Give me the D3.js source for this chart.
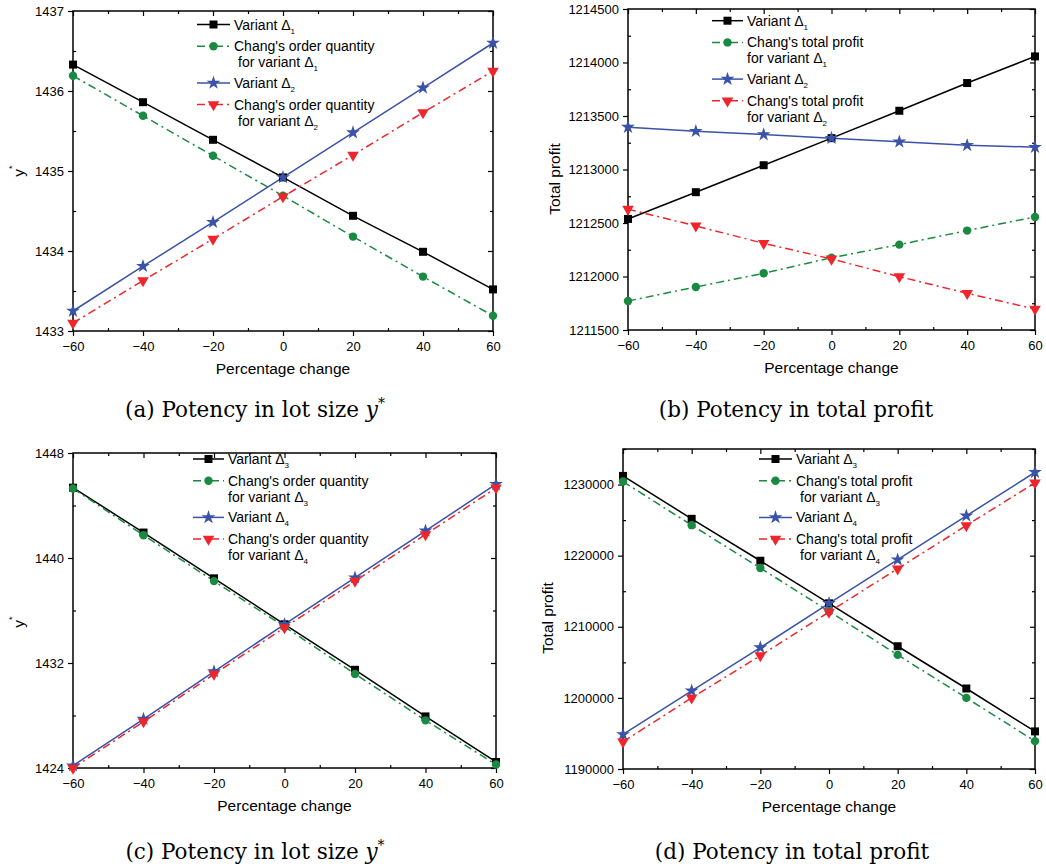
<!DOCTYPE html>
<html>
<head>
<meta charset="utf-8">
<script src="https://cdn.jsdelivr.net/npm/d3@7"></script>
<style>
  body { margin: 0; background: white; }
  svg { display: block; }
</style>
</head>
<body>
<svg id="chart" width="1046" height="868"></svg>
<script>
// percentage change on the x axis, shared by all four panels
const pct = [-60, -40, -20, 0, 20, 40, 60];
const xTicks = [-60, -40, -20, 0, 20, 40, 60];

// (a) lot size y*
const aVariant1 = [1436.33, 1435.86, 1435.39, 1434.92, 1434.44, 1433.99, 1433.52];
const aChang1 = [1436.19, 1435.69, 1435.19, 1434.69, 1434.18, 1433.68, 1433.19];
const aVariant2 = [1433.25, 1433.81, 1434.36, 1434.92, 1435.48, 1436.04, 1436.6];
const aChang2 = [1433.1, 1433.63, 1434.15, 1434.68, 1435.2, 1435.73, 1436.25];
const aYTicks = [1433, 1434, 1435, 1436, 1437];

// (b) total profit
const bVariant1 = [1212538, 1212788, 1213040, 1213293, 1213549, 1213808, 1214057];
const bChang1 = [1211771, 1211902, 1212030, 1212176, 1212298, 1212429, 1212557];
const bVariant2 = [1213396, 1213358, 1213327, 1213293, 1213259, 1213227, 1213209];
const bChang2 = [1212629, 1212473, 1212310, 1212164, 1211999, 1211843, 1211696];
const bYTicks = [1211500, 1212000, 1212500, 1213000, 1213500, 1214000, 1214500];

// (c) lot size y*
const cVariant3 = [1445.36, 1441.94, 1438.45, 1434.95, 1431.48, 1427.93, 1424.46];
const cChang3 = [1445.29, 1441.74, 1438.24, 1434.77, 1431.17, 1427.63, 1424.26];
const cVariant4 = [1424.18, 1427.73, 1431.35, 1434.95, 1438.5, 1442.07, 1445.62];
const cChang4 = [1424.0, 1427.53, 1431.15, 1434.7, 1438.24, 1441.79, 1445.34];
const cYTicks = [1424, 1432, 1440, 1448];

// (d) total profit
const dVariant3 = [1231216, 1225181, 1219287, 1213298, 1207263, 1201322, 1195287];
const dChang3 = [1230421, 1224292, 1218257, 1212175, 1206047, 1200000, 1193918];
const dVariant4 = [1194866, 1200994, 1207076, 1213298, 1219427, 1225602, 1231731];
const dChang4 = [1193836, 1200000, 1205942, 1212082, 1218164, 1224246, 1230234];
const dYTicks = [1190000, 1200000, 1210000, 1220000, 1230000];

const orderLabels1 = ["Variant Δ_1", "Chang's order quantity\nfor variant Δ_1", "Variant Δ_2", "Chang's order quantity\nfor variant Δ_2"];
const profitLabels1 = ["Variant Δ_1", "Chang's total profit\nfor variant Δ_1", "Variant Δ_2", "Chang's total profit\nfor variant Δ_2"];
const orderLabels3 = ["Variant Δ_3", "Chang's order quantity\nfor variant Δ_3", "Variant Δ_4", "Chang's order quantity\nfor variant Δ_4"];
const profitLabels3 = ["Variant Δ_3", "Chang's total profit\nfor variant Δ_3", "Variant Δ_4", "Chang's total profit\nfor variant Δ_4"];

const styles = [
  { color: "#000000", dash: null, symbol: d3.symbolSquare, size: 64, rotate: 0 },
  { color: "#1a8a42", dash: "8,4,2,4", symbol: d3.symbolCircle, size: 56, rotate: 0 },
  { color: "#3a52a8", dash: null, symbol: d3.symbolStar, size: 60, rotate: 0 },
  { color: "#f0242b", dash: "8,4,2,4", symbol: d3.symbolTriangle, size: 58, rotate: 180 },
];

const svg = d3.select("#chart");
svg.append("rect").attr("width", 1046).attr("height", 868).attr("fill", "white");

const font = "Liberation Sans, Arial, sans-serif";

function drawPanel(p) {
  const g = svg.append("g");
  const x = d3.scaleLinear().domain([-60, 60]).range([p.left, p.right]);
  const y = d3.scaleLinear().domain(p.yDomain).range([p.bottom, p.top]);
  const xMinor = d3.range(-50, 60, 20);
  const yMinor = d3.range(p.yDomain[0], p.yDomain[1] + 1e-9, p.yMinorStep).filter(v => !p.yTicks.some(t => Math.abs(t - v) < 1e-6));

  // bottom axis
  g.append("g")
    .attr("transform", `translate(0,${p.bottom})`)
    .call(d3.axisBottom(x).tickValues(xTicks).tickSize(5).tickPadding(6).tickFormat(d3.format("d")))
    .call(a => a.select(".domain").remove());
  g.append("g")
    .attr("transform", `translate(0,${p.bottom})`)
    .call(d3.axisBottom(x).tickValues(xMinor).tickSize(-3).tickFormat(""))
    .call(a => a.select(".domain").remove());
  // top mirrored ticks
  g.append("g")
    .attr("transform", `translate(0,${p.top})`)
    .call(d3.axisTop(x).tickValues(xTicks).tickSize(-5).tickFormat(""))
    .call(a => a.select(".domain").remove());
  g.append("g")
    .attr("transform", `translate(0,${p.top})`)
    .call(d3.axisTop(x).tickValues(xMinor).tickSize(-3).tickFormat(""))
    .call(a => a.select(".domain").remove());
  // left axis
  g.append("g")
    .attr("transform", `translate(${p.left},0)`)
    .call(d3.axisLeft(y).tickValues(p.yTicks).tickSize(5).tickPadding(4).tickFormat(d3.format("d")))
    .call(a => a.select(".domain").remove());
  g.append("g")
    .attr("transform", `translate(${p.left},0)`)
    .call(d3.axisLeft(y).tickValues(yMinor).tickSize(-3).tickFormat(""))
    .call(a => a.select(".domain").remove());
  // right mirrored ticks
  g.append("g")
    .attr("transform", `translate(${p.right},0)`)
    .call(d3.axisRight(y).tickValues(p.yTicks).tickSize(-5).tickFormat(""))
    .call(a => a.select(".domain").remove());
  g.append("g")
    .attr("transform", `translate(${p.right},0)`)
    .call(d3.axisRight(y).tickValues(yMinor).tickSize(-3).tickFormat(""))
    .call(a => a.select(".domain").remove());

  g.selectAll(".tick line").attr("stroke", "#000").attr("stroke-width", 1.2);
  g.selectAll(".tick text").attr("font-family", font).attr("font-size", 13).attr("fill", "#000");

  g.append("rect")
    .attr("x", p.left).attr("y", p.top)
    .attr("width", p.right - p.left).attr("height", p.bottom - p.top)
    .attr("fill", "none").attr("stroke", "#000").attr("stroke-width", 1.5);

  // axis titles
  g.append("text")
    .attr("x", (p.left + p.right) / 2).attr("y", p.bottom + 43)
    .attr("text-anchor", "middle")
    .attr("font-family", font).attr("font-size", 15.5)
    .text("Percentage change");

  const yt = g.append("text")
    .attr("transform", `translate(${p.yTitleX},${p.yTitleY}) rotate(-90)`)
    .attr("text-anchor", "middle")
    .attr("font-family", font).attr("font-size", 15.5);
  if (p.yTitle === "y*") {
    yt.append("tspan").text("y");
    yt.append("tspan").attr("font-size", 9).attr("dy", -9).text("*");
  } else {
    yt.text(p.yTitle);
  }

  // series
  const line = d3.line().x((d, i) => x(pct[i])).y(d => y(d));
  p.series.forEach((s, k) => {
    const st = styles[k];
    g.append("path")
      .datum(s)
      .attr("d", line)
      .attr("fill", "none")
      .attr("stroke", st.color)
      .attr("stroke-width", 1.5)
      .attr("stroke-dasharray", st.dash);
  });
  p.series.forEach((s, k) => {
    const st = styles[k];
    g.selectAll(null)
      .data(s)
      .enter()
      .append("path")
      .attr("d", d3.symbol().type(st.symbol).size(st.size))
      .attr("transform", (d, i) => `translate(${x(pct[i])},${y(d)}) rotate(${st.rotate})`)
      .attr("fill", st.color);
  });

  // legend
  let ly = p.legendY;
  p.labels.forEach((lab, k) => {
    const st = styles[k];
    g.append("line")
      .attr("x1", p.legendX).attr("x2", p.legendX + p.legendLine)
      .attr("y1", ly).attr("y2", ly)
      .attr("stroke", st.color).attr("stroke-width", 1.5)
      .attr("stroke-dasharray", st.dash);
    g.append("path")
      .attr("d", d3.symbol().type(st.symbol).size(st.size))
      .attr("transform", `translate(${p.legendX + p.legendLine / 2},${ly}) rotate(${st.rotate})`)
      .attr("fill", st.color);
    const lines = lab.split("\n");
    lines.forEach((ln, j) => {
      const t = g.append("text")
        .attr("x", p.legendX + p.legendLine + 4 + (j > 0 ? p.indent : 0))
        .attr("y", ly + 5 + j * 16)
        .attr("font-family", font).attr("font-size", 14);
      const parts = ln.split("_");
      t.append("tspan").text(parts[0]);
      if (parts[1]) {
        t.append("tspan").attr("font-size", 8).attr("dy", 4).text(parts[1]);
      }
    });
    ly += 21.7 + (lines.length - 1) * 15;
  });

  // caption
  const cap = svg.append("text")
    .attr("x", p.capX).attr("y", p.capY)
    .attr("text-anchor", "middle")
    .attr("font-family", "DejaVu Serif, Liberation Serif, serif")
    .attr("font-size", 21.5);
  cap.append("tspan").text(p.caption);
  if (p.capY2) {
    cap.append("tspan").attr("font-style", "italic").text(" y");
    cap.append("tspan").attr("font-size", 14).attr("dy", -9).text("*");
  }
}

const panels = [
  { left: 73, right: 493, top: 11, bottom: 331, yDomain: [1433, 1437], yTicks: aYTicks, yMinorStep: 0.5,
    series: [aVariant1, aChang1, aVariant2, aChang2], labels: orderLabels1,
    yTitle: "y*", yTitleX: 24, yTitleY: 171,
    legendX: 197, legendY: 24.5, legendLine: 33, indent: 4,
    caption: "(a)  Potency in lot size", capY2: true, capX: 255, capY: 417 },
  { left: 628, right: 1035, top: 9, bottom: 330, yDomain: [1211500, 1214500], yTicks: bYTicks, yMinorStep: 250,
    series: [bVariant1, bChang1, bVariant2, bChang2], labels: profitLabels1,
    yTitle: "Total profit", yTitleX: 560, yTitleY: 179,
    legendX: 712, legendY: 20.7, legendLine: 31, indent: 0,
    caption: "(b)  Potency in total profit", capY2: false, capX: 796, capY: 417 },
  { left: 73, right: 496, top: 453, bottom: 768, yDomain: [1424, 1448], yTicks: cYTicks, yMinorStep: 4,
    series: [cVariant3, cChang3, cVariant4, cChang4], labels: orderLabels3,
    yTitle: "y*", yTitleX: 24, yTitleY: 622,
    legendX: 193, legendY: 459, legendLine: 31, indent: 0,
    caption: "(c)  Potency in lot size", capY2: true, capX: 255, capY: 859 },
  { left: 623, right: 1035, top: 449, bottom: 769, yDomain: [1190000, 1235000], yTicks: dYTicks, yMinorStep: 5000,
    series: [dVariant3, dChang3, dVariant4, dChang4], labels: profitLabels3,
    yTitle: "Total profit", yTitleX: 553, yTitleY: 618,
    legendX: 759, legendY: 459, legendLine: 33, indent: 4,
    caption: "(d)  Potency in total profit", capY2: false, capX: 792, capY: 859 },
];

panels.forEach(drawPanel);
</script>
</body>
</html>
